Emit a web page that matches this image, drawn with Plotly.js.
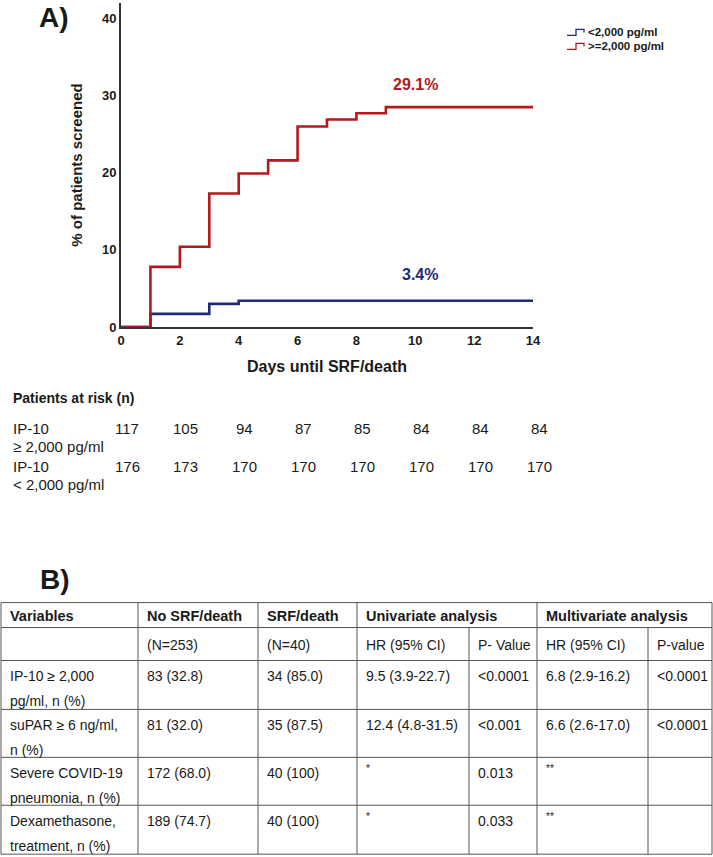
<!DOCTYPE html>
<html>
<head>
<meta charset="utf-8">
<script src="https://cdn.plot.ly/plotly-3.0.1.min.js"></script>
<style>html,body{margin:0;padding:0;background:#fff;}#chart{width:713px;height:857px;}</style>
</head>
<body>
<div id="chart"></div>
<script>
// ---- Kaplan-Meier style data (A) ----
const redDays = [0, 1, 2, 3, 4, 5, 6, 7, 8, 9, 14];
const redPct  = [0, 7.8, 10.4, 17.3, 19.9, 21.6, 26.0, 26.9, 27.7, 28.5, 28.5];
const blueDays = [0, 1, 3, 4, 14];
const bluePct  = [0, 1.7, 3.0, 3.4, 3.4];
const redLabel = "29.1%";
const blueLabel = "3.4%";
const legendNames = ["<2,000 pg/ml", ">=2,000 pg/ml"];
const xTicks = [0, 2, 4, 6, 8, 10, 12, 14];
const yTicks = [0, 10, 20, 30, 40];

// ---- Patients at risk ----
const riskDays = [0, 2, 4, 6, 8, 10, 12, 14];
const riskHigh = [117, 105, 94, 87, 85, 84, 84, 84];
const riskLow  = [176, 173, 170, 170, 170, 170, 170, 170];
const riskHighLabel = ["IP-10", "\u2265 2,000 pg/ml"];
const riskLowLabel  = ["IP-10", "< 2,000 pg/ml"];

// ---- Table (B) ----
const header1 = ["Variables", "No SRF/death", "SRF/death", "Univariate analysis", "Multivariate analysis"];
const header1Cols = [0, 1, 2, 3, 5];
const header2 = ["", "(N=253)", "(N=40)", "HR (95% CI)", "P- Value", "HR (95% CI)", "P-value"];
const varLine1 = ["IP-10 \u2265 2,000", "suPAR \u2265 6 ng/ml,", "Severe COVID-19", "Dexamethasone,"];
const varLine2 = ["pg/ml, n (%)", "n (%)", "pneumonia, n (%)", "treatment, n (%)"];
const noSRF   = ["83 (32.8)", "81 (32.0)", "172 (68.0)", "189 (74.7)"];
const srf     = ["34 (85.0)", "35 (87.5)", "40 (100)", "40 (100)"];
const uniHR   = ["9.5 (3.9-22.7)", "12.4 (4.8-31.5)", "*", "*"];
const uniP    = ["<0.0001", "<0.001", "0.013", "0.033"];
const multiHR = ["6.8 (2.9-16.2)", "6.6 (2.6-17.0)", "**", "**"];
const multiP  = ["<0.0001", "<0.0001", "", ""];

// ---- layout geometry (pixels) ----
const W = 713, H = 857;
const PL = 121, PR = 533, PT = 2.5, PB = 327;
const px = x => (x - PL) / (PR - PL);
const py = y => (PB - y) / (PB - PT);
const FONT = "Liberation Sans, Arial, sans-serif";
const RED = "#b3191d", BLUE = "#1f2a78", TXT = "#1a1a1a", GRID = "#555";

const traces = [
  {x: blueDays, y: bluePct, type: "scatter", mode: "lines", line: {shape: "hv", color: BLUE, width: 2.6}, name: legendNames[0], hoverinfo: "skip"},
  {x: redDays, y: redPct, type: "scatter", mode: "lines", line: {shape: "hv", color: RED, width: 2.6}, name: legendNames[1], hoverinfo: "skip"}
];

const annotations = [];
const shapes = [];
function txt(text, xpx, ypx, opts) {
  annotations.push(Object.assign({
    text: text, xref: "paper", yref: "paper", x: px(xpx), y: py(ypx),
    xanchor: "left", yanchor: "middle", showarrow: false,
    font: {family: FONT, size: 14, color: TXT}
  }, opts || {}));
}
function line(x0, y0, x1, y1, color, width) {
  shapes.push({type: "line", xref: "paper", yref: "paper", x0: px(x0), y0: py(y0), x1: px(x1), y1: py(y1),
    line: {color: color || GRID, width: width || 1}});
}

// Panel labels
txt("A)", 37, 17, {font: {family: FONT, size: 28, color: TXT, weight: "bold"}});
txt("B)", 38, 580, {font: {family: FONT, size: 28, color: TXT, weight: "bold"}});

// Curve labels (data coords)
annotations.push({text: redLabel, xref: "x", yref: "y", x: 10.0, y: 31.4, showarrow: false,
  font: {family: FONT, size: 16, color: RED, weight: "bold"}});
annotations.push({text: blueLabel, xref: "x", yref: "y", x: 10.15, y: 6.8, showarrow: false,
  font: {family: FONT, size: 16, color: BLUE, weight: "bold"}});

// Custom legend with step symbols
[[BLUE, 35, legendNames[0]], [RED, 49, legendNames[1]]].forEach(([c, yb, name]) => {
  shapes.push({type: "path", xref: "paper", yref: "paper",
    path: `M${px(567)},${py(yb)} L${px(576)},${py(yb)} L${px(576)},${py(yb-6)} L${px(584)},${py(yb-6)} L${px(584)},${py(yb-3)}`,
    line: {color: c, width: 1.3}});
  txt(name, 586, yb - 3, {font: {family: FONT, size: 11.5, color: TXT, weight: "bold"}});
});

// Patients at risk
txt("Patients at risk (n)", 11, 398, {font: {family: FONT, size: 14, color: TXT, weight: "bold"}});
txt(riskHighLabel[0], 11, 429, {font: {family: FONT, size: 15, color: TXT}});
txt(riskHighLabel[1], 11, 447, {font: {family: FONT, size: 15, color: TXT}});
txt(riskLowLabel[0], 11, 467, {font: {family: FONT, size: 15, color: TXT}});
txt(riskLowLabel[1], 11, 485, {font: {family: FONT, size: 15, color: TXT}});
riskDays.forEach((d, i) => {
  annotations.push({text: String(riskHigh[i]), xref: "x", yref: "paper", x: d, y: py(429), xshift: 6,
    xanchor: "center", yanchor: "middle", showarrow: false, font: {family: FONT, size: 15, color: TXT}});
  annotations.push({text: String(riskLow[i]), xref: "x", yref: "paper", x: d, y: py(467), xshift: 6,
    xanchor: "center", yanchor: "middle", showarrow: false, font: {family: FONT, size: 15, color: TXT}});
});

// Table B
const colEdges = [1, 138, 258, 357, 469, 537, 648, 712];
const rowEdges = [603, 628, 661, 710, 758, 806, 855];
rowEdges.forEach(y => line(colEdges[0], y, colEdges[colEdges.length - 1], y));
// verticals: header row 1 only on group borders
[0, 1, 2, 3, 5, 7].forEach(ci => line(colEdges[ci], rowEdges[0], colEdges[ci], rowEdges[1]));
colEdges.forEach(x => line(x, rowEdges[1], x, rowEdges[rowEdges.length - 1]));

const PAD = 7;
header1.forEach((h, i) => txt(h, colEdges[header1Cols[i]] + PAD, 616,
  {font: {family: FONT, size: 14.5, color: TXT, weight: "bold"}}));
header2.forEach((h, i) => { if (h) txt(h, colEdges[i] + PAD, 645); });
const body = [null, noSRF, srf, uniHR, uniP, multiHR, multiP];
varLine1.forEach((v, r) => {
  const top = rowEdges[r + 2];
  txt(v, colEdges[0] + PAD, top + 16);
  txt(varLine2[r], colEdges[0] + PAD, top + 41);
  for (let c = 1; c < body.length; c++) {
    const s = body[c][r];
    if (!s) continue;
    if (/^\*+$/.test(s)) txt(s, colEdges[c] + PAD, top + 11, {font: {family: FONT, size: 10, color: TXT}});
    else txt(s, colEdges[c] + PAD, top + 16);
  }
});

const layout = {
  width: W, height: H,
  margin: {l: PL, r: W - PR, t: PT, b: H - PB, pad: 0},
  paper_bgcolor: "#fff", plot_bgcolor: "#fff",
  showlegend: false,
  xaxis: {range: [0, 14], tickvals: xTicks, ticks: "", showgrid: false, zeroline: false,
    showline: true, linecolor: "#333", linewidth: 2, automargin: false,
    tickfont: {family: FONT, size: 13, color: TXT, weight: "bold"},
    title: {text: "Days until SRF/death", standoff: 14, font: {family: FONT, size: 16, color: TXT, weight: "bold"}}},
  yaxis: {range: [0, 42], tickvals: yTicks, ticks: "", showgrid: false, zeroline: false,
    showline: true, linecolor: "#333", linewidth: 2, automargin: false,
    tickfont: {family: FONT, size: 13, color: TXT, weight: "bold"},
    title: {text: "% of patients screened", standoff: 16, font: {family: FONT, size: 15, color: TXT, weight: "bold"}}},
  annotations: annotations,
  shapes: shapes
};

Plotly.newPlot("chart", traces, layout, {staticPlot: true, displayModeBar: false});
</script>
</body>
</html>
